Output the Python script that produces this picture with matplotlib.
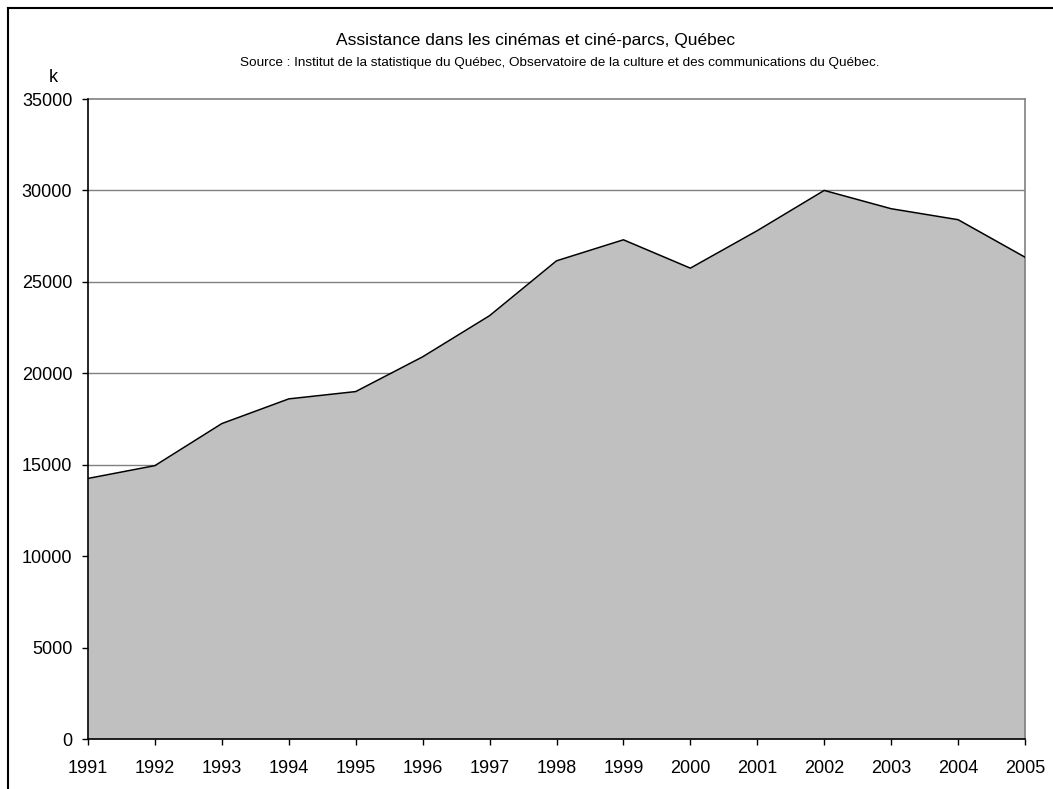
import matplotlib
matplotlib.use("Agg")
import matplotlib.pyplot as plt
from matplotlib.lines import Line2D

years = [1991, 1992, 1993, 1994, 1995, 1996, 1997, 1998, 1999, 2000, 2001, 2002, 2003, 2004, 2005]
attendance = [14250, 14950, 17250, 18600, 19000, 20900, 23150, 26150, 27300, 25750, 27800, 30000, 29000, 28400, 26350]
yticks = [0, 5000, 10000, 15000, 20000, 25000, 30000, 35000]

title = "Assistance dans les cinémas et ciné-parcs, Québec"
subtitle = "Source : Institut de la statistique du Québec, Observatoire de la culture et des communications du Québec."

plt.rcParams['font.family'] = ['Liberation Sans', 'DejaVu Sans']

W, H = 1053, 789
fig = plt.figure(figsize=(W / 100, H / 100), dpi=100)
fig.patch.set_facecolor("white")

# plot area in pixels
left, right, top, bottom = 88, 1025, 99, 739
ax = fig.add_axes([left / W, 1 - bottom / H, (right - left) / W, (bottom - top) / H])

ax.fill_between(years, attendance, 0, color="#c0c0c0", linewidth=0, zorder=2)
ax.plot(years, attendance, color="black", linewidth=1.1, zorder=3)

ax.set_xlim(years[0], years[-1])
ax.set_ylim(0, 35000)
ax.set_xticks(years)
ax.set_xticklabels([str(y) for y in years])
ax.set_yticks(yticks)
ax.set_yticklabels([str(v) for v in yticks])

for v in yticks[1:-1]:
    ax.axhline(v, color="#808080", linewidth=1.0, zorder=1)

for s in ["top", "right"]:
    ax.spines[s].set_color("#808080")
    ax.spines[s].set_linewidth(1.2)
for s in ["left", "bottom"]:
    ax.spines[s].set_color("black")
    ax.spines[s].set_linewidth(1.2)
ax.spines["left"].set_zorder(4)
ax.spines["bottom"].set_zorder(4)

ax.tick_params(axis="both", direction="out", length=4.3, width=1, color="black",
               labelsize=13, labelcolor="black")
ax.tick_params(axis="x", pad=11)
ax.tick_params(axis="y", pad=7)

fig.text(536 / W, 1 - 40 / H, title, ha="center", va="center", fontsize=12.5)
fig.text(560 / W, 1 - 63 / H, subtitle, ha="center", va="center", fontsize=9.7)
fig.text(53 / W, 1 - 77 / H, "k", ha="center", va="center", fontsize=13)

# outer border: top and left only
fig.add_artist(Line2D([8 / W, 1.0], [1 - 8 / H, 1 - 8 / H], transform=fig.transFigure,
                      color="black", linewidth=1.5))
fig.add_artist(Line2D([8 / W, 8 / W], [0.0, 1 - 8 / H], transform=fig.transFigure,
                      color="black", linewidth=1.5))

fig.savefig("out.png", dpi=100)
